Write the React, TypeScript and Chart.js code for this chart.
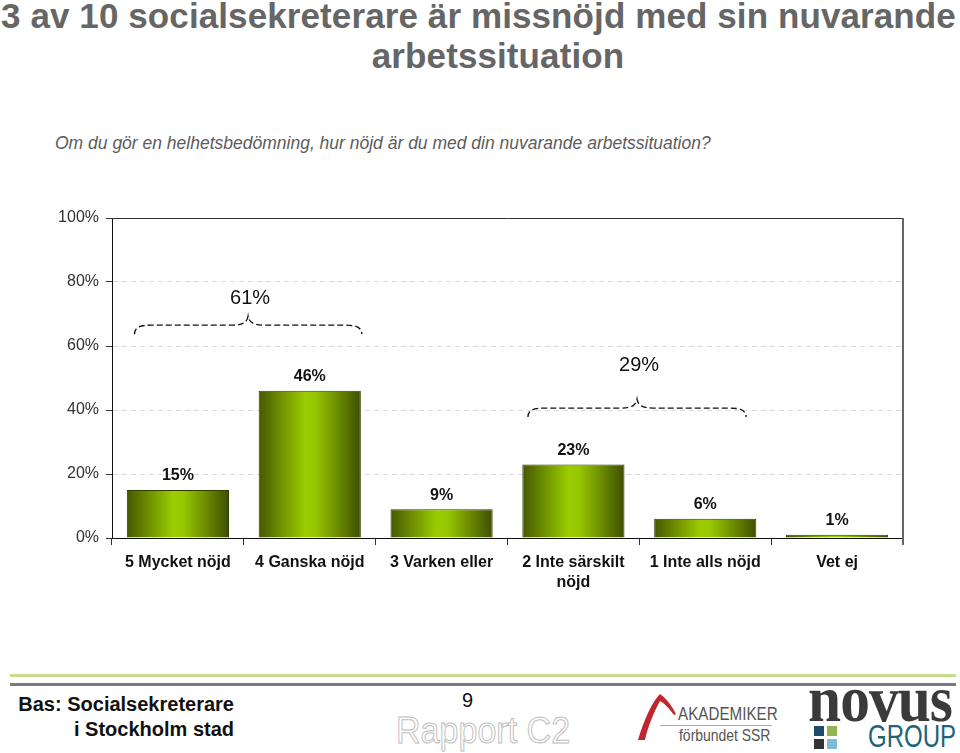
import React, { useEffect, useRef } from "react";
import { Chart, registerables } from "chart.js";

Chart.register(...registerables);

const categories: (string | string[])[] = [
  "5 Mycket nöjd",
  "4 Ganska nöjd",
  "3 Varken eller",
  ["2 Inte särskilt", "nöjd"],
  "1 Inte alls nöjd",
  "Vet ej",
];
const values = [15, 46, 9, 23, 6, 1];
const yTicks = [0, 20, 40, 60, 80, 100];

// brace annotations: category range, label, level (in % on y scale)
const braceFrom = [0, 3];
const braceTo = [1, 4];
const braceFromOffset = [-0.33, -0.345];
const braceToOffset = [0.395, 0.31];
const braceLabels = ["61%", "29%"];
const braceLevels = [66.5, 40.6];
const braceLabelLevels = [75, 54];

const BAR_PCT = 0.775;
const FONT = "Arial, 'Liberation Sans', sans-serif";

const barFill = (c: any) => {
  const chart = c.chart;
  const xs = chart.scales && chart.scales.x;
  if (!xs || !chart.chartArea) return "#7fa800";
  const cx = xs.getPixelForValue(c.dataIndex);
  const half = ((xs.width / categories.length) * BAR_PCT) / 2;
  const g = chart.ctx.createLinearGradient(cx - half, 0, cx + half, 0);
  g.addColorStop(0, "#455800");
  g.addColorStop(0.45, "#9acc00");
  g.addColorStop(0.55, "#98c800");
  g.addColorStop(1, "#3e4f00");
  return g;
};

function drawBrace(ctx: CanvasRenderingContext2D, x0: number, x1: number, y: number) {
  const mid = (x0 + x1) / 2;
  const h = 9;
  const r = 16;
  ctx.beginPath();
  ctx.moveTo(x0, y + h);
  ctx.bezierCurveTo(x0, y + 2, x0 + 6, y, x0 + r, y);
  ctx.lineTo(mid - r, y);
  ctx.bezierCurveTo(mid - 5, y, mid - 1, y - 3, mid, y - h);
  ctx.bezierCurveTo(mid + 1, y - 3, mid + 5, y, mid + r, y);
  ctx.lineTo(x1 - r, y);
  ctx.bezierCurveTo(x1 - 6, y, x1, y + 2, x1, y + h);
  ctx.stroke();
}

const decorPlugin = {
  id: "decor",
  afterDraw(chart: any) {
    const { ctx, chartArea, scales } = chart;
    const xs = scales.x;
    const ys = scales.y;
    const step = xs.width / categories.length;
    ctx.save();
    // top and right frame
    ctx.strokeStyle = "#333";
    ctx.lineWidth = 1;
    ctx.beginPath();
    ctx.moveTo(chartArea.left, chartArea.top + 0.5);
    ctx.lineTo(chartArea.right, chartArea.top + 0.5);
    ctx.stroke();
    ctx.strokeStyle = "#666";
    ctx.lineWidth = 2;
    ctx.beginPath();
    ctx.moveTo(chartArea.right, chartArea.top);
    ctx.lineTo(chartArea.right, chartArea.bottom + 7);
    ctx.stroke();

    // value labels
    const meta = chart.getDatasetMeta(0);
    ctx.fillStyle = "#111";
    ctx.font = `bold 16px ${FONT}`;
    ctx.textAlign = "center";
    ctx.textBaseline = "bottom";
    meta.data.forEach((bar: any, i: number) => {
      ctx.fillText(values[i] + "%", bar.x, bar.y - 6);
    });

    // braces
    ctx.strokeStyle = "#111";
    ctx.lineWidth = 1.3;
    ctx.setLineDash([6, 3]);
    const ends = braceFrom.map((f, i) => [
      xs.getPixelForValue(f) + braceFromOffset[i] * step,
      xs.getPixelForValue(braceTo[i]) + braceToOffset[i] * step,
    ]);
    ends.forEach(([x0, x1], i) => drawBrace(ctx, x0, x1, ys.getPixelForValue(braceLevels[i])));
    ctx.setLineDash([]);
    ctx.font = `20px ${FONT}`;
    ctx.textBaseline = "middle";
    ctx.fillStyle = "#111";
    ends.forEach(([x0, x1], i) => {
      ctx.fillText(braceLabels[i], (x0 + x1) / 2 + 2, ys.getPixelForValue(braceLabelLevels[i]));
    });
    ctx.restore();
  },
};

function BarChart() {
  const ref = useRef<HTMLCanvasElement | null>(null);
  useEffect(() => {
    if (!ref.current) return;
    const chart = new Chart(ref.current, {
      type: "bar",
      data: {
        labels: categories as any,
        datasets: [
          {
            data: values,
            backgroundColor: barFill as any,
            borderColor: "#2f3b00",
            borderWidth: 1,
            barPercentage: BAR_PCT,
            categoryPercentage: 1,
          },
        ],
      },
      options: {
        animation: false,
        responsive: false,
        maintainAspectRatio: false,
        layout: { padding: { top: 18, right: 57, left: 0, bottom: 0 } },
        plugins: { legend: { display: false }, tooltip: { enabled: false } },
        scales: {
          x: {
            afterFit: (s: any) => {
              s.height = 82;
            },
            grid: {
              display: true,
              drawOnChartArea: false,
              offset: true,
              tickLength: 7,
              color: "#333",
            },
            border: { color: "#111", width: 1 },
            ticks: {
              color: "#111",
              font: { family: FONT, size: 16, weight: "bold" as any, lineHeight: 1.25 },
              padding: 8,
              maxRotation: 0,
              autoSkip: false,
            },
          },
          y: {
            min: 0,
            max: 100,
            afterFit: (s: any) => {
              s.width = 112;
            },
            afterBuildTicks: (s: any) => {
              s.ticks = yTicks.map((v) => ({ value: v }));
            },
            grid: {
              color: (c: any) =>
                c.tick && (c.tick.value === 0 || c.tick.value === 100) ? "rgba(0,0,0,0)" : "#dadada",
              tickColor: "#333",
              tickLength: 6,
              lineWidth: 1,
            },
            border: { color: "#111", width: 1, dash: [5, 4] },
            ticks: {
              color: "#333",
              font: { family: FONT, size: 16 },
              padding: 7,
              callback: (v: any) => v + "%",
            },
          },
        },
      },
      plugins: [decorPlugin],
    });
    return () => chart.destroy();
  }, []);
  return (
    <canvas
      ref={ref}
      width={960}
      height={420}
      style={{ position: "absolute", left: 0, top: 200, width: 960, height: 420 }}
    />
  );
}

export default function App() {
  const abs = (o: React.CSSProperties): React.CSSProperties => ({ position: "absolute", ...o });
  return (
    <div
      style={{
        position: "absolute",
        left: 0,
        top: 0,
        width: 960,
        height: 753,
        background: "#fff",
        overflow: "hidden",
        fontFamily: FONT,
      }}
    >
      <div
        style={abs({
          left: 1,
          top: -4,
          fontSize: 35,
          fontWeight: "bold",
          color: "#666",
          whiteSpace: "nowrap",
          letterSpacing: 0.1,
          lineHeight: "40px",
        })}
      >
        3 av 10 socialsekreterare är missnöjd med sin nuvarande
      </div>
      <div
        style={abs({
          left: 298,
          width: 400,
          textAlign: "center",
          top: 36,
          fontSize: 35,
          fontWeight: "bold",
          color: "#666",
          whiteSpace: "nowrap",
          letterSpacing: 0.1,
          lineHeight: "40px",
        })}
      >
        arbetssituation
      </div>
      <div
        style={abs({
          left: 55,
          top: 131,
          fontSize: 17.5,
          fontStyle: "italic",
          color: "#5c5c5c",
          whiteSpace: "nowrap",
          lineHeight: "24px",
        })}
      >
        Om du gör en helhetsbedömning, hur nöjd är du med din nuvarande arbetssituation?
      </div>

      <BarChart />

      {/* footer */}
      <div style={abs({ left: 10, top: 674, width: 946, height: 3, background: "#c8dc90" })} />
      <div style={abs({ left: 10, top: 683, width: 946, height: 3, background: "#7a7a7a" })} />
      <div
        style={abs({
          left: 0,
          width: 234,
          top: 692,
          textAlign: "right",
          fontSize: 20,
          fontWeight: "bold",
          color: "#111",
          lineHeight: "25px",
          whiteSpace: "nowrap",
        })}
      >
        <div>Bas: Socialsekreterare</div>
        <div>i Stockholm stad</div>
      </div>
      <div style={abs({ left: 462, top: 688, fontSize: 20, color: "#111", lineHeight: "24px" })}>9</div>
      <div
        style={abs({
          left: 396,
          top: 710,
          fontSize: 37,
          color: "#fff",
          WebkitTextStroke: "1px #bdbdbd",
          lineHeight: "42px",
          whiteSpace: "nowrap",
          transform: "scaleX(0.92)",
          transformOrigin: "left top",
        } as any)}
      >
        Rapport C2
      </div>

      {/* Akademiker förbundet SSR */}
      <svg style={abs({ left: 636, top: 690, width: 50, height: 52 })} viewBox="0 0 50 52">
        <path d="M2 50 C 8 30, 16 12, 24 4 C 30 8, 36 16, 40 24 L 38 25 C 33 18, 28 13, 24 11 C 18 22, 12 36, 9 50 Z" fill="#c0262d" />
      </svg>
      <div
        style={abs({
          left: 678,
          top: 703,
          fontSize: 19,
          color: "#555",
          lineHeight: "22px",
          whiteSpace: "nowrap",
          transform: "scaleX(0.8)",
          transformOrigin: "left top",
        })}
      >
        AKADEMIKER
      </div>
      <div style={abs({ left: 660, top: 725, width: 112, height: 1, background: "#aaa" })} />
      <div
        style={abs({
          left: 679,
          top: 726,
          fontSize: 17,
          color: "#555",
          lineHeight: "20px",
          whiteSpace: "nowrap",
          transform: "scaleX(0.82)",
          transformOrigin: "left top",
        })}
      >
        förbundet SSR
      </div>

      {/* Novus Group */}
      <div
        style={abs({
          left: 808,
          top: 664,
          fontSize: 66,
          fontWeight: "bold",
          fontFamily: "'Liberation Serif', 'DejaVu Serif', serif",
          color: "#3a3a3a",
          lineHeight: "70px",
          whiteSpace: "nowrap",
          transform: "scaleX(0.9)",
          transformOrigin: "left top",
          letterSpacing: -1,
        })}
      >
        novus
      </div>
      <div style={abs({ left: 814, top: 726, width: 10, height: 10, background: "#1e4c6b" })} />
      <div style={abs({ left: 827, top: 726, width: 10, height: 10, background: "#93b451" })} />
      <div style={abs({ left: 814, top: 739, width: 10, height: 10, background: "#333" })} />
      <div style={abs({ left: 827, top: 739, width: 10, height: 10, background: "#7fbcd8" })} />
      <div
        style={abs({
          left: 868,
          top: 719,
          fontSize: 32,
          color: "#1d6478",
          lineHeight: "34px",
          whiteSpace: "nowrap",
          transform: "scaleX(0.75)",
          transformOrigin: "left top",
        })}
      >
        GROUP
      </div>
    </div>
  );
}
